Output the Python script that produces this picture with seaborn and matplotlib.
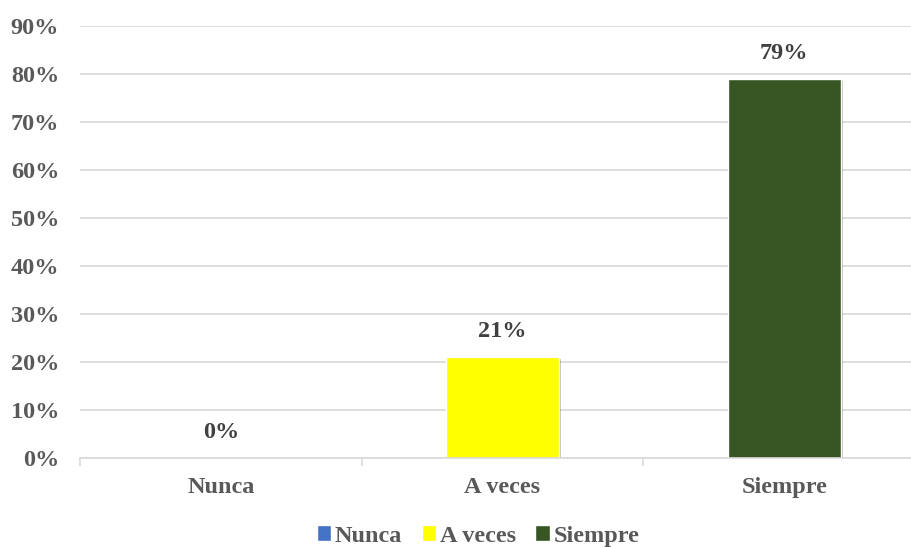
import matplotlib
matplotlib.use("Agg")
import matplotlib.pyplot as plt
import matplotlib.patheffects as pe
from matplotlib.ticker import PercentFormatter, FixedLocator
import seaborn as sns

categorias = ["Nunca", "A veces", "Siempre"]
valores = [0.00, 0.21, 0.79]
colores = ["#4472C4", "#FFFF00", "#375623"]

sns.set_style("white")
plt.rcParams["font.family"] = ["Liberation Serif", "DejaVu Serif"]
plt.rcParams["font.weight"] = "bold"
gris = "#595959"
fs = 17.5

fig = plt.figure(figsize=(9.12, 5.47), dpi=100)
ax = fig.add_axes([80 / 912, 89 / 547, 845 / 912, 432 / 547])

sns.barplot(x=categorias, y=valores, hue=categorias, palette=colores,
            width=0.4, dodge=False, legend=True, saturation=1, ax=ax)

for bar in ax.patches:
    bar.set_path_effects([pe.SimplePatchShadow(offset=(1.5, -1.5), alpha=0.25, shadow_rgbFace="black"),
                          pe.Normal()])

for cont in ax.containers:
    ax.bar_label(cont, labels=[f"{v * 100:.0f}%" for v in cont.datavalues],
                 padding=11, fontsize=fs, fontweight="bold", color="#404040")

ax.set_ylim(0, 0.9)
ax.set_xlim(-0.5, 2.5)
ax.yaxis.set_major_locator(FixedLocator([i / 10 for i in range(10)]))
ax.yaxis.set_major_formatter(PercentFormatter(1.0, decimals=0))
ax.grid(axis="y", color="#d9d9d9", linewidth=1.2)
ax.set_axisbelow(True)
for s in ["top", "right", "left"]:
    ax.spines[s].set_visible(False)
ax.spines["bottom"].set_color("#d9d9d9")
ax.spines["bottom"].set_linewidth(1.2)

ax.set_xticks([0, 1, 2])
ax.set_xticklabels(categorias)
ax.tick_params(axis="x", length=0, pad=14, labelsize=fs, labelcolor=gris)
ax.set_xticks([-0.5, 0.5, 1.5, 2.5], minor=True)
ax.tick_params(axis="x", which="minor", bottom=True, length=6, color="#d9d9d9", width=1.2)
ax.tick_params(axis="y", length=0, pad=15, labelsize=fs, labelcolor=gris)
for lab in ax.get_xticklabels() + ax.get_yticklabels():
    lab.set_fontweight("bold")
ax.set_xlabel("")
ax.set_ylabel("")

sns.move_legend(ax, "center", bbox_to_anchor=(398 / 845, -78 / 432), ncol=3,
                frameon=False, title=None, fontsize=fs, handlelength=0.6,
                handleheight=0.6, handletextpad=0.15, columnspacing=0.8,
                labelcolor=gris)
for t in ax.get_legend().get_texts():
    t.set_fontweight("bold")

fig.savefig("out.png", dpi=100)
